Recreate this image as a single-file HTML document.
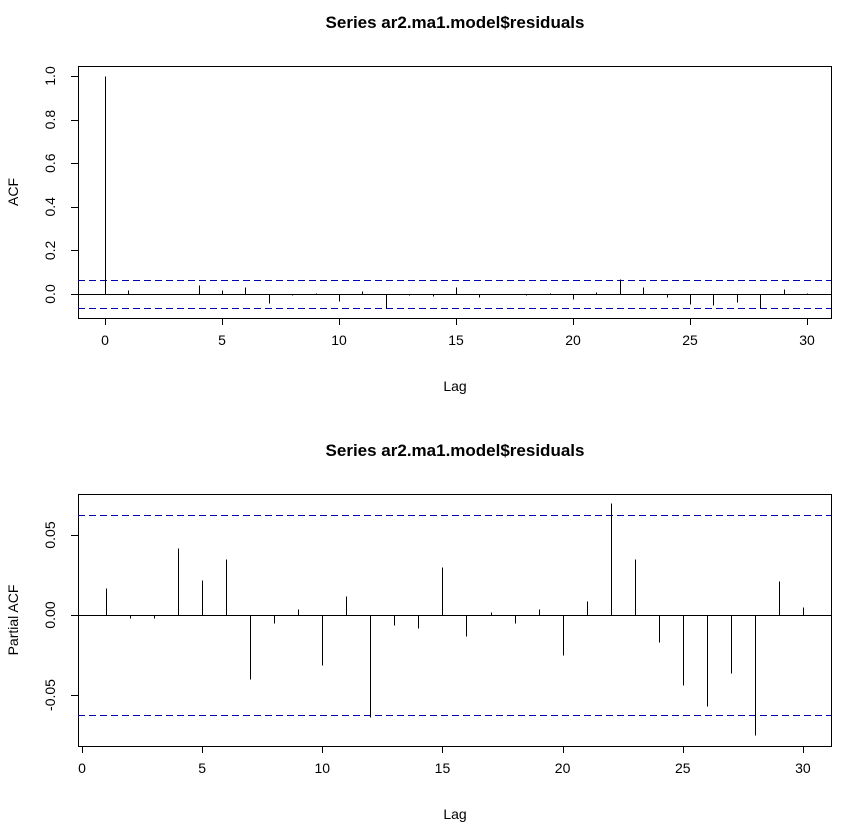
<!DOCTYPE html>
<html><head><meta charset="utf-8"><style>
body{margin:0;background:#fff}
svg{display:block;font-family:"Liberation Sans",Arial,sans-serif}
line,rect{shape-rendering:crispEdges}
</style></head><body>
<svg id="c" width="849" height="832" xmlns="http://www.w3.org/2000/svg"></svg>
<script>
const acfLags=[0,1,2,3,4,5,6,7,8,9,10,11,12,13,14,15,16,17,18,19,20,21,22,23,24,25,26,27,28,29,30];
const acfVals=[1,0.018,-0.002,-0.002,0.041,0.020,0.033,-0.040,-0.005,0.004,-0.030,0.012,-0.064,-0.006,-0.008,0.030,-0.013,0.002,-0.005,0.004,-0.025,0.009,0.069,0.033,-0.014,-0.045,-0.052,-0.035,-0.065,0.021,0.005];
const pacfLags=[1,2,3,4,5,6,7,8,9,10,11,12,13,14,15,16,17,18,19,20,21,22,23,24,25,26,27,28,29,30];
const pacfVals=[0.017,-0.002,-0.002,0.042,0.022,0.035,-0.040,-0.005,0.004,-0.031,0.012,-0.064,-0.006,-0.008,0.030,-0.013,0.002,-0.005,0.004,-0.025,0.009,0.070,0.035,-0.017,-0.044,-0.057,-0.036,-0.075,0.021,0.005];
const confLimit=0.0625;
const acfYTicks=[0,0.2,0.4,0.6,0.8,1.0];
const acfYLabels=["0.0","0.2","0.4","0.6","0.8","1.0"];
const pacfYTicks=[-0.05,0,0.05];
const pacfYLabels=["-0.05","0.00","0.05"];
const xTicks=[0,5,10,15,20,25,30];

const svg=document.getElementById('c');
const NS="http://www.w3.org/2000/svg";
function el(t,a,txt){const e=document.createElementNS(NS,t);for(const k in a)e.setAttribute(k,a[k]);if(txt!==undefined)e.textContent=txt;svg.appendChild(e);return e;}
const R=v=>Math.round(v)+0.5;

function panel(cfg){
  const {top,bottom,x,y,lags,vals,yTicks,yLabels,ylab,name}=cfg;
  let e;
  e=el('text',{x:455,y:top-38,'text-anchor':'middle','font-size':17,'font-weight':'bold'},'Series  ar2.ma1.model$residuals');
  
  e=el('rect',{x:78.5,y:top+0.5,width:753,height:bottom-top,fill:'none',stroke:'#000'});
  
  e=el('line',{x1:78,x2:831,y1:R(y(0)),y2:R(y(0)),stroke:'#000'});
  
  [confLimit,-confLimit].forEach((c,i)=>{
    const l=el('line',{x1:78,x2:831,y1:R(y(c)),y2:R(y(c)),stroke:'#0000b0','stroke-dasharray':'7,4'});
    
  });
  lags.forEach((g,i)=>{
    const b=el('line',{x1:R(x(g)),x2:R(x(g)),y1:R(y(0)),y2:R(y(vals[i])),stroke:'#000'});
    
  });
  xTicks.forEach(t=>{
    el('line',{x1:R(x(t)),x2:R(x(t)),y1:bottom,y2:bottom+7,stroke:'#000'});
    const tx=el('text',{x:x(t),y:bottom+27,'text-anchor':'middle','font-size':14},String(t));
    
  });
  yTicks.forEach((t,i)=>{
    el('line',{x1:71,x2:78,y1:R(y(t)),y2:R(y(t)),stroke:'#000'});
    const tx=el('text',{x:0,y:0,'text-anchor':'middle','font-size':14,transform:`translate(55,${y(t)}) rotate(-90)`},yLabels[i]);
    
  });
  e=el('text',{x:455,y:bottom+73,'text-anchor':'middle','font-size':14},'Lag');
  
  e=el('text',{x:0,y:0,'text-anchor':'middle','font-size':14,transform:`translate(18,${(top+bottom)/2}) rotate(-90)`},ylab);
  
}
panel({top:66,bottom:318,x:g=>105+g*23.4,y:v=>294-v*218,lags:acfLags,vals:acfVals,yTicks:acfYTicks,yLabels:acfYLabels,ylab:'ACF',name:'acf'});
panel({top:494,bottom:746,x:g=>82+g*24.03,y:v=>615-v*1600,lags:pacfLags,vals:pacfVals,yTicks:pacfYTicks,yLabels:pacfYLabels,ylab:'Partial ACF',name:'pacf'});
</script>
</body></html>
